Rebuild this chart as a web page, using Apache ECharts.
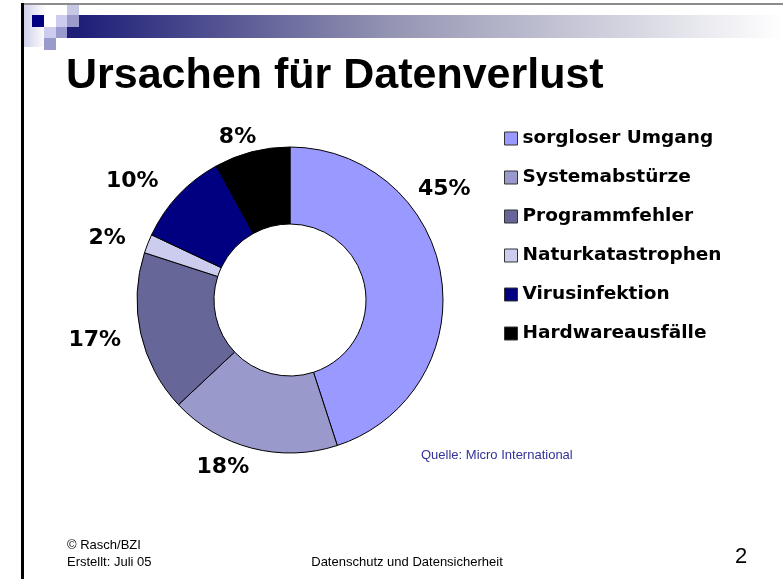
<!DOCTYPE html>
<html>
<head>
<meta charset="utf-8">
<script src="https://cdn.jsdelivr.net/npm/echarts@6/dist/echarts.min.js"></script>
<style>
  html, body { margin: 0; padding: 0; background: #fff; }
  #chart { width: 783px; height: 579px; }
</style>
</head>
<body>
<div id="chart"></div>
<script>
// Ursachen fuer Datenverlust (Anteile in %)
const categories = ['sorgloser Umgang', 'Systemabstürze', 'Programmfehler', 'Naturkatastrophen', 'Virusinfektion', 'Hardwareausfälle'];
const shares = [45, 18, 17, 2, 10, 8];
const colors = ['#9999ff', '#9999cc', '#666699', '#ccccee', '#000080', '#000000'];

// label nudges so they sit where PowerPoint put them
const labelShift = [[-43, -84], [6, 5], [0, 4], [-3, 0], [-4, -4], [13, 0]];

const chart = echarts.init(document.getElementById('chart'));

const option = {
  backgroundColor: '#fff',
  animation: false,
  title: {
    text: 'Ursachen für Datenverlust',
    left: 66,
    top: 55,
    padding: 0,
    textStyle: { fontFamily: 'Liberation Sans', fontWeight: 'bold', fontSize: 43, color: '#000' }
  },
  legend: {
    orient: 'vertical',
    left: 504,
    top: 129,
    padding: 0,
    itemGap: 20,
    itemWidth: 13,
    itemHeight: 13,
    icon: 'rect',
    selectedMode: false,
    itemStyle: { borderColor: '#333', borderWidth: 1 },
    textStyle: { fontFamily: 'DejaVu Sans', fontWeight: 'bold', fontSize: 18.5, color: '#000' },
    data: categories
  },
  series: [{
    type: 'pie',
    center: [290, 300],
    radius: [76, 153],
    startAngle: 90,
    clockwise: true,
    avoidLabelOverlap: false,
    color: colors,
    itemStyle: { borderColor: '#000', borderWidth: 1 },
    emphasis: { disabled: true },
    label: {
      show: true,
      position: 'outside',
      formatter: '{c}%',
      fontFamily: 'DejaVu Sans',
      fontWeight: 'bold',
      fontSize: 22,
      color: '#000'
    },
    labelLine: { show: false, length: 15, length2: 0 },
    labelLayout: function (p) {
      const s = labelShift[p.dataIndex];
      return { dx: s[0], dy: s[1] };
    },
    data: categories.map((n, i) => ({ name: n, value: shares[i] }))
  }],
  graphic: [
    // slide frame
    { type: 'rect', shape: { x: 21, y: 3, width: 762, height: 2 }, style: { fill: '#8c8c8c' } },
    { type: 'rect', shape: { x: 21, y: 3, width: 3, height: 576 }, style: { fill: '#000' } },
    // header decoration
    { type: 'rect', shape: { x: 24, y: 5, width: 22, height: 42 },
      style: { fill: new echarts.graphic.LinearGradient(0, 0, 1, 0, [
        { offset: 0, color: '#d0d0ea' }, { offset: 1, color: '#ffffff' }]) } },
    { type: 'rect', shape: { x: 79, y: 15, width: 704, height: 23 },
      style: { fill: new echarts.graphic.LinearGradient(0, 0, 1, 0, [
        { offset: 0, color: '#1e1e78' }, { offset: 0.45, color: '#9696b4' }, { offset: 1, color: '#ffffff' }]) } },
    { type: 'rect', shape: { x: 67, y: 27, width: 12, height: 11 }, style: { fill: '#1e1e78' } },
    { type: 'rect', shape: { x: 32, y: 15, width: 12, height: 12 }, style: { fill: '#000080' } },
    { type: 'rect', shape: { x: 67, y: 5, width: 12, height: 10 }, style: { fill: '#c8c8e6' } },
    { type: 'rect', shape: { x: 56, y: 15, width: 11, height: 12 }, style: { fill: '#ccccee' } },
    { type: 'rect', shape: { x: 67, y: 15, width: 12, height: 12 }, style: { fill: '#9a9acc' } },
    { type: 'rect', shape: { x: 44, y: 27, width: 12, height: 11 }, style: { fill: '#ccccee' } },
    { type: 'rect', shape: { x: 56, y: 27, width: 11, height: 11 }, style: { fill: '#9a9acc' } },
    { type: 'rect', shape: { x: 44, y: 38, width: 12, height: 12 }, style: { fill: '#9a9acc' } },
    // source + footer
    { type: 'text', x: 421, y: 455,
      style: { text: 'Quelle: Micro International', fill: '#333399', font: '13px "Liberation Sans"', textVerticalAlign: 'middle' } },
    { type: 'text', x: 67, y: 545,
      style: { text: '© Rasch/BZI', fill: '#000', font: '13px "Liberation Sans"', textVerticalAlign: 'middle' } },
    { type: 'text', x: 67, y: 562,
      style: { text: 'Erstellt: Juli 05', fill: '#000', font: '13px "Liberation Sans"', textVerticalAlign: 'middle' } },
    { type: 'text', x: 407, y: 562,
      style: { text: 'Datenschutz und Datensicherheit', fill: '#000', font: '13px "Liberation Sans"', textAlign: 'center', textVerticalAlign: 'middle' } },
    { type: 'text', x: 741, y: 557,
      style: { text: '2', fill: '#000', font: '22px "Liberation Sans"', textAlign: 'center', textVerticalAlign: 'middle' } }
  ]
};

chart.setOption(option);
</script>
</body>
</html>
